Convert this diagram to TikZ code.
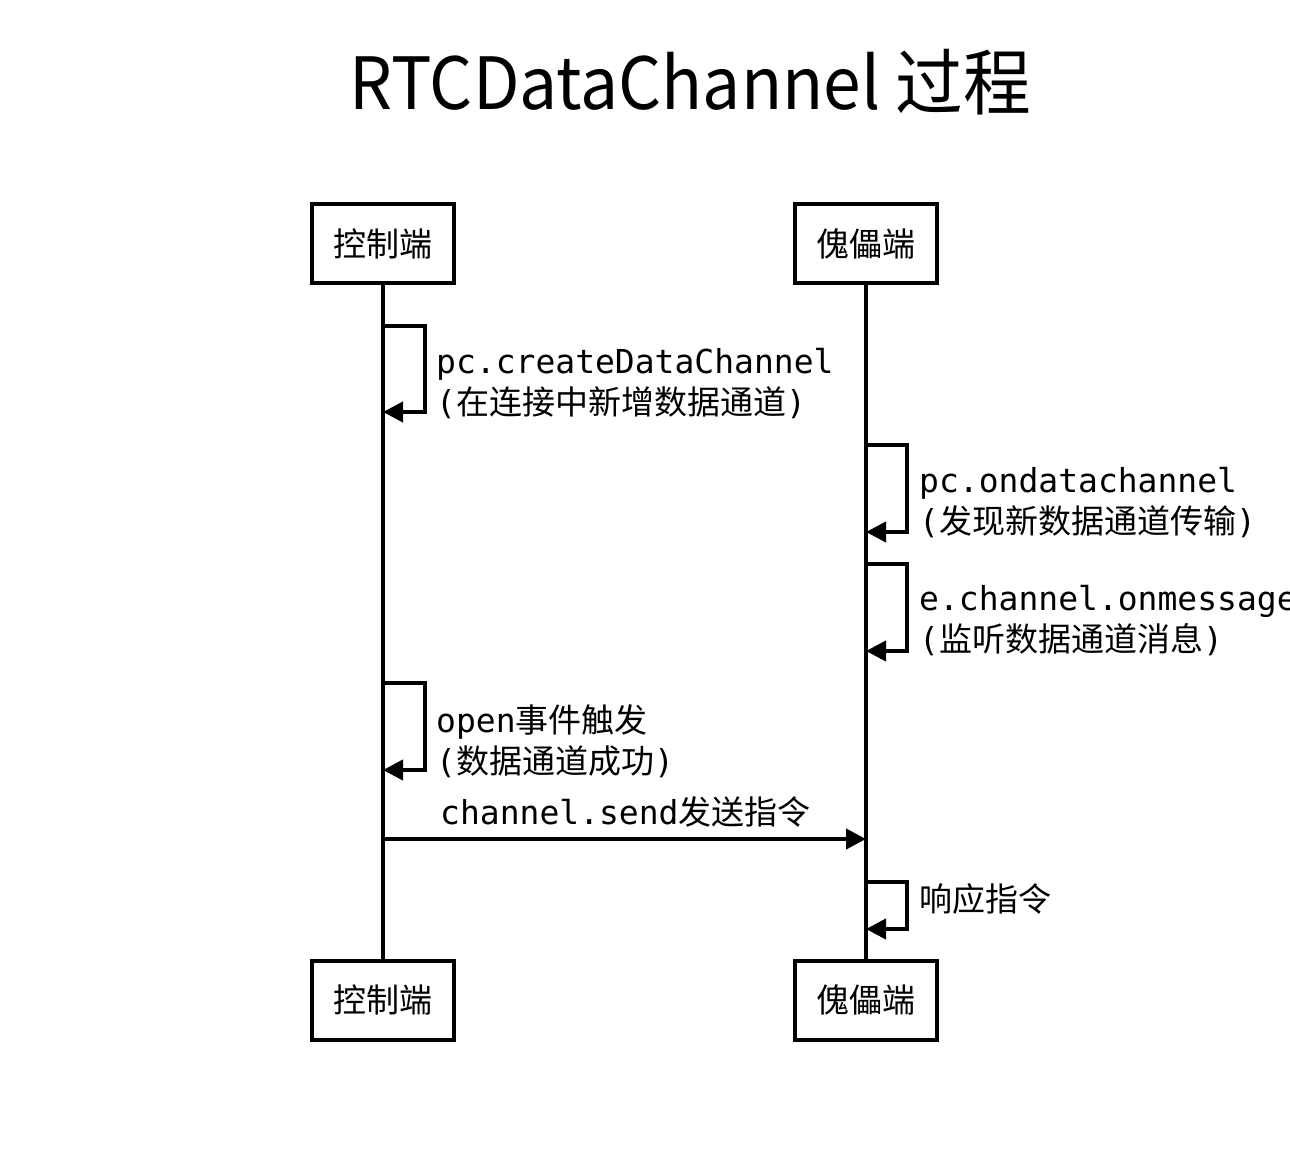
\documentclass[tikz,border=0pt]{standalone}
\usepackage{fontspec}
\setmonofont{DejaVu Sans Mono}
\newfontfamily\cjk{Noto Sans CJK SC}
\usetikzlibrary{arrows.meta, positioning}

\begin{document}
\begin{tikzpicture}[
    x=1pt, y=-1pt,
    actor/.style={draw, line width=4pt, minimum width=142pt, minimum height=79pt, inner sep=0pt, font=\cjk\fontsize{33}{33}\selectfont},
    life/.style={line width=4pt},
    msg/.style={-{Triangle[length=20pt, width=20pt]}, line width=4pt},
    lbl/.style={anchor=west, align=left, inner sep=0pt, font=\ttfamily\fontsize{33}{41}\selectfont}
]
    \useasboundingbox (0,0) rectangle (1290,1158);
    \node[font=\cjk\fontsize{72}{72}\selectfont, xscale=0.94] (title) at (690,82) {RTCDataChannel 过程};

    \node[actor] (ctlTop) at (383,244) {控制端};
    \node[actor] (pupTop) at (866,244) {傀儡端};
    \node[actor] (ctlBot) at (383,1000) {控制端};
    \node[actor] (pupBot) at (866,1000) {傀儡端};

    \draw[life] (ctlTop) -- (ctlBot);
    \draw[life] (pupTop) -- (pupBot);

    % self messages
    \coordinate (c1a) at (383,326);
    \coordinate (c1b) at (383,412);
    \draw[msg] (c1a) -- ++(42,0) |- (c1b);
    \node[lbl] (create) at (436,384) {pc.createDataChannel\\({\cjk 在连接中新增数据通道})};

    \coordinate (p1a) at (866,445);
    \coordinate (p1b) at (866,532);
    \draw[msg] (p1a) -- ++(41,0) |- (p1b);
    \node[lbl] (ondata) at (919,503) {pc.ondatachannel\\({\cjk 发现新数据通道传输})};

    \coordinate (p2a) at (866,564);
    \coordinate (p2b) at (866,651);
    \draw[msg] (p2a) -- ++(41,0) |- (p2b);
    \node[lbl] (onmsg) at (919,621) {e.channel.onmessage\\({\cjk 监听数据通道消息})};

    \coordinate (c2a) at (383,683);
    \coordinate (c2b) at (383,770);
    \draw[msg] (c2a) -- ++(42,0) |- (c2b);
    \node[lbl] (open) at (436,741) {open{\cjk 事件触发}\\({\cjk 数据通道成功})};

    % send
    \coordinate (sendA) at (383,839);
    \coordinate (sendB) at (866,839);
    \draw[msg] (sendA) -- (sendB);
    \node[lbl] (send) at (440,812) {channel.send{\cjk 发送指令}};

    \coordinate (p3a) at (866,882);
    \coordinate (p3b) at (866,929);
    \draw[msg] (p3a) -- ++(41,0) |- (p3b);
    \node[lbl] (reply) at (919,899) {{\cjk 响应指令}};
\end{tikzpicture}
\end{document}
